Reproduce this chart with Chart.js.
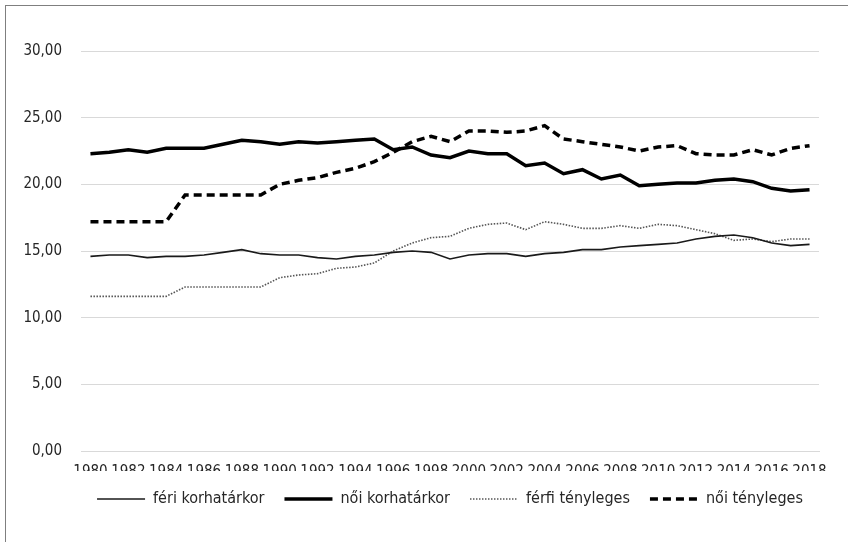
<!DOCTYPE html>
<html>
<head>
<meta charset="utf-8">
<script src="https://cdn.jsdelivr.net/npm/chart.js@4/dist/chart.umd.min.js"></script>
<style>
  html, body { margin: 0; padding: 0; background: #fff; }
  #frame {
    position: absolute; left: 5px; top: 5px; width: 900px; height: 600px;
    border-left: 1px solid #7f7f7f; border-top: 1px solid #7f7f7f;
  }
  #wrap { position: absolute; left: 0; top: 0; width: 848px; height: 542px; }
</style>
</head>
<body>
<div id="frame"></div>
<div id="wrap"><canvas id="chart" width="848" height="542"></canvas></div>
<script>
// Data
const years = [];
for (let y = 1980; y <= 2018; y++) years.push(String(y));

const feriKorhatar = [14.6, 14.7, 14.7, 14.5, 14.6, 14.6, 14.7, 14.9, 15.1, 14.8,
  14.7, 14.7, 14.5, 14.4, 14.6, 14.7, 14.9, 15.0, 14.9, 14.4,
  14.7, 14.8, 14.8, 14.6, 14.8, 14.9, 15.1, 15.1, 15.3, 15.4,
  15.5, 15.6, 15.9, 16.1, 16.2, 16.0, 15.6, 15.4, 15.5];

const noiKorhatar = [22.3, 22.4, 22.6, 22.4, 22.7, 22.7, 22.7, 23.0, 23.3, 23.2,
  23.0, 23.2, 23.1, 23.2, 23.3, 23.4, 22.6, 22.8, 22.2, 22.0,
  22.5, 22.3, 22.3, 21.4, 21.6, 20.8, 21.1, 20.4, 20.7, 19.9,
  20.0, 20.1, 20.1, 20.3, 20.4, 20.2, 19.7, 19.5, 19.6];

const ferfiTenyleges = [11.6, 11.6, 11.6, 11.6, 11.6, 12.3, 12.3, 12.3, 12.3, 12.3,
  13.0, 13.2, 13.3, 13.7, 13.8, 14.1, 15.0, 15.6, 16.0, 16.1,
  16.7, 17.0, 17.1, 16.6, 17.2, 17.0, 16.7, 16.7, 16.9, 16.7,
  17.0, 16.9, 16.6, 16.3, 15.8, 15.9, 15.7, 15.9, 15.9];

const noiTenyleges = [17.2, 17.2, 17.2, 17.2, 17.2, 19.2, 19.2, 19.2, 19.2, 19.2,
  20.0, 20.3, 20.5, 20.9, 21.2, 21.7, 22.4, 23.2, 23.6, 23.2,
  24.0, 24.0, 23.9, 24.0, 24.4, 23.4, 23.2, 23.0, 22.8, 22.5,
  22.8, 22.9, 22.3, 22.2, 22.2, 22.6, 22.2, 22.7, 22.9];

const FONT = "'DejaVu Sans Condensed', 'Liberation Sans', sans-serif";

function lineSet(label, data, width, color, dash) {
  return {
    label: label,
    data: data,
    borderColor: color,
    backgroundColor: color,
    borderWidth: width,
    borderDash: dash,
    pointRadius: 0,
    pointHoverRadius: 0,
    pointStyle: 'line',
    tension: 0,
    fill: false
  };
}

// centre the legend under the plot area rather than the whole canvas
const legendUnderPlot = {
  id: 'legendUnderPlot',
  afterLayout(chart) {
    if (!chart.legend) return;
    const mid = (chart.chartArea.left + chart.chartArea.right) / 2;
    chart.legend.left = mid - 395;
    chart.legend.right = mid + 395;
  }
};

new Chart(document.getElementById("chart"), {
  type: 'line',
  data: {
    labels: years,
    datasets: [
      lineSet('féri korhatárkor', feriKorhatar, 1.6, '#1a1a1a', []),
      lineSet('női korhatárkor', noiKorhatar, 3.5, '#000000', []),
      lineSet('férfi tényleges', ferfiTenyleges, 1.6, '#555555', [1.5, 1.5]),
      lineSet('női tényleges', noiTenyleges, 3.5, '#000000', [8, 5])
    ]
  },
  plugins: [legendUnderPlot],
  options: {
    responsive: false,
    animation: false,
    layout: { padding: { top: 51, right: 29, bottom: 25, left: 0 } },
    plugins: {
      tooltip: { enabled: false },
      legend: {
        position: 'bottom',
        labels: {
          usePointStyle: true,
          pointStyleWidth: 48,
          boxHeight: 8,
          padding: 20,
          color: '#262626',
          font: { family: FONT, size: 16 },
          // legend samples should copy each line's dash and width
          generateLabels: function (chart) {
            const items = Chart.defaults.plugins.legend.labels.generateLabels(chart);
            items.forEach((it, i) => {
              const ds = chart.data.datasets[i];
              it.lineDash = ds.borderDash;
              it.lineWidth = ds.borderWidth;
              it.strokeStyle = ds.borderColor;
            });
            return items;
          }
        }
      }
    },
    scales: {
      x: {
        offset: true,
        grid: { display: false, drawTicks: false },
        border: { display: true, color: '#d9d9d9' },
        ticks: {
          autoSkip: false,
          maxRotation: 0,
          padding: 12,
          color: '#262626',
          font: { family: FONT, size: 15 },
          callback: function (v, i) { return i % 2 === 0 ? years[i] : ''; }
        },
        afterFit: function (s) { s.height = 20; }
      },
      y: {
        min: 0,
        max: 30,
        grid: { color: '#d9d9d9', lineWidth: 1, drawTicks: false },
        border: { display: false },
        ticks: {
          stepSize: 5,
          padding: 19,
          color: '#262626',
          font: { family: FONT, size: 15 },
          callback: function (v) { return v.toFixed(2).replace('.', ','); }
        },
        afterFit: function (s) { s.width = 81; }
      }
    }
  }
});
</script>
</body>
</html>
